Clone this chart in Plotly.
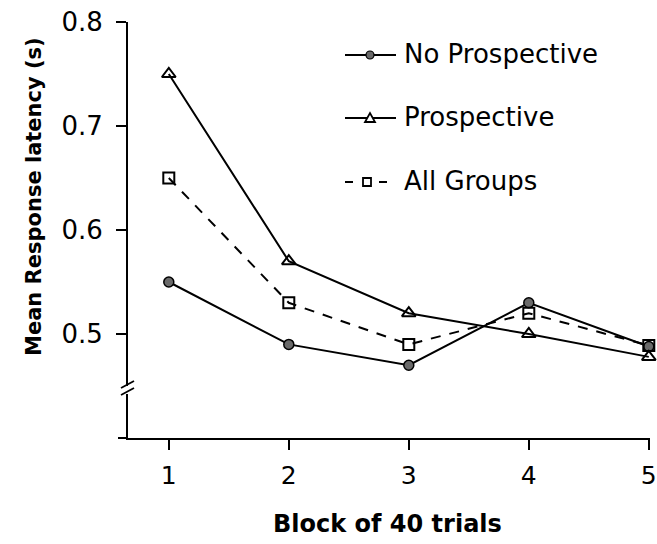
import plotly.graph_objects as go

blocks = [1, 2, 3, 4, 5]
no_prospective = [0.55, 0.49, 0.47, 0.53, 0.488]
prospective = [0.75, 0.57, 0.52, 0.50, 0.478]
all_groups = [0.65, 0.53, 0.49, 0.52, 0.489]
series_names = ["No Prospective", "Prospective", "All Groups"]

W, H = 657, 544
L, R, T, B = 128, 7, 22, 106
PW, PH = W - L - R, H - T - B


def px(x):
    return (x - L) / PW


def py(y):
    return 1 - (y - T) / PH


FONT = "DejaVu Sans, Arial, sans-serif"
LINE = dict(color="black", width=2)

fig = go.Figure()
fig.add_trace(go.Scatter(
    x=blocks, y=no_prospective, name=series_names[0],
    mode="lines+markers", cliponaxis=False, line=LINE,
    marker=dict(symbol="circle", size=10, color="#6a6a6a",
                line=dict(color="black", width=1.5)),
))
fig.add_trace(go.Scatter(
    x=blocks, y=prospective, name=series_names[1],
    mode="lines+markers", cliponaxis=False, line=LINE,
    marker=dict(symbol="triangle-up-open", size=12, color="black",
                line=dict(color="black", width=2)),
))
fig.add_trace(go.Scatter(
    x=blocks, y=all_groups, name=series_names[2],
    mode="lines+markers", cliponaxis=False,
    line=dict(color="black", width=2, dash="10px,9px"),
    marker=dict(symbol="square-open", size=11, color="black",
                line=dict(color="black", width=2)),
))

shapes = []
# axis break on the y axis
shapes.append(dict(type="rect", xref="paper", yref="paper",
                   x0=px(124), x1=px(132), y0=py(394), y1=py(386),
                   fillcolor="white", line=dict(width=0), layer="above"))
for dy in (0, 7):
    shapes.append(dict(type="line", xref="paper", yref="paper",
                       x0=px(121), y0=py(395 - dy), x1=px(134), y1=py(388 - dy),
                       line=dict(color="black", width=1.8), layer="above"))
# short extension of the x axis to the left
shapes.append(dict(type="line", xref="paper", yref="paper",
                   x0=px(118), y0=0, x1=0, y1=0,
                   line=dict(color="black", width=2)))

# legend key, drawn in pixel-based paper coordinates
key_y = [55, 118, 182]
text_x = 402
# No Prospective: solid line with filled dot
shapes.append(dict(type="line", xref="paper", yref="paper",
                   x0=px(345), x1=px(396), y0=py(key_y[0]), y1=py(key_y[0]),
                   line=LINE))
shapes.append(dict(type="circle", xref="paper", yref="paper",
                   x0=px(366), x1=px(374), y0=py(key_y[0] + 4), y1=py(key_y[0] - 4),
                   fillcolor="#6a6a6a", line=dict(color="black", width=1.2)))
# Prospective: solid line with open triangle
shapes.append(dict(type="line", xref="paper", yref="paper",
                   x0=px(345), x1=px(396), y0=py(key_y[1]), y1=py(key_y[1]),
                   line=LINE))
yt = key_y[1]
shapes.append(dict(type="path", xref="paper", yref="paper",
                   path=f"M {px(365)},{py(yt + 4)} L {px(375)},{py(yt + 4)} "
                        f"L {px(370)},{py(yt - 5)} Z",
                   fillcolor="white", line=dict(color="black", width=1.8)))
# All Groups: dashed line with open square
ya = key_y[2]
for x0, x1 in ((345, 353), (379, 387)):
    shapes.append(dict(type="line", xref="paper", yref="paper",
                       x0=px(x0), x1=px(x1), y0=py(ya), y1=py(ya), line=LINE))
shapes.append(dict(type="rect", xref="paper", yref="paper",
                   x0=px(363), x1=px(371), y0=py(ya + 4), y1=py(ya - 4),
                   fillcolor="white", line=dict(color="black", width=1.8)))

annotations = []
for name, yk in zip(series_names, key_y):
    annotations.append(dict(text=name, xref="paper", yref="paper",
                            x=px(text_x), y=py(yk - 1), xanchor="left",
                            yanchor="middle", showarrow=False,
                            font=dict(size=26, family=FONT, color="black")))
annotations.append(dict(text="<b>Block of 40 trials</b>", xref="paper",
                        yref="paper", x=px(387), y=py(524), xanchor="center",
                        yanchor="middle", showarrow=False,
                        font=dict(size=24, family=FONT, color="black")))
annotations.append(dict(text="<b>Mean Response latency (s)</b>", xref="paper",
                        yref="paper", x=px(34), y=py(197), xanchor="center",
                        yanchor="middle", textangle=-90, showarrow=False,
                        font=dict(size=21, family=FONT, color="black")))

fig.update_layout(
    width=W, height=H,
    margin=dict(l=L, r=R, t=T, b=B),
    paper_bgcolor="white", plot_bgcolor="white",
    font=dict(family=FONT, size=26, color="black"),
    showlegend=False,
    shapes=shapes,
    annotations=annotations,
    xaxis=dict(range=[0.66, 5.01], tickvals=blocks, showgrid=False,
               zeroline=False, showline=True, linecolor="black", linewidth=2,
               ticks="outside", ticklen=10, tickwidth=1.8, tickcolor="black",
               tickfont=dict(size=25), ticklabelstandoff=4,
               ticklabeloverflow="allow", automargin=False),
    yaxis=dict(range=[0.4, 0.8], tickvals=[0.5, 0.6, 0.7, 0.8],
               ticktext=["0.5", "0.6", "0.7", "0.8"], showgrid=False,
               zeroline=False, showline=True, linecolor="black", linewidth=2,
               ticks="outside", ticklen=10, tickwidth=1.8, tickcolor="black",
               tickfont=dict(size=26), ticklabelstandoff=8,
               ticklabeloverflow="allow", automargin=False),
)

fig.write_html("out.html")
